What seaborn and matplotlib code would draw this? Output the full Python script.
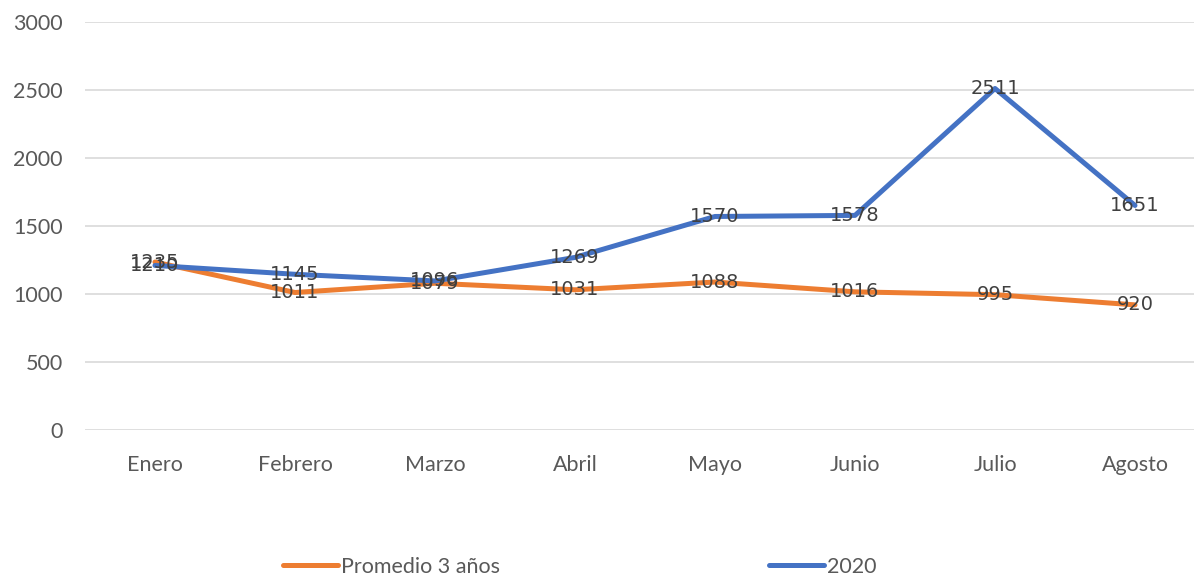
import pandas as pd
import matplotlib
matplotlib.use('Agg')
import matplotlib.pyplot as plt
import seaborn as sns

meses = ['Enero', 'Febrero', 'Marzo', 'Abril', 'Mayo', 'Junio', 'Julio', 'Agosto']
promedio = [1235, 1011, 1079, 1031, 1088, 1016, 995, 920]
v2020 = [1210, 1145, 1096, 1269, 1570, 1578, 2511, 1651]
series = ['Promedio 3 años', '2020']
colores = ['#ED7D31', '#4472C4']

df = pd.DataFrame({
    'mes': meses * 2,
    'valor': promedio + v2020,
    'serie': [series[0]] * len(meses) + [series[1]] * len(meses),
})

sns.set_style('white')
plt.rcParams['font.family'] = ['Lato', 'DejaVu Sans']

fig = plt.figure(figsize=(11.94, 5.79), dpi=100)
ax = fig.add_axes([85 / 1194, 149 / 579, 1120 / 1194, 408 / 579])

sns.lineplot(data=df, x='mes', y='valor', hue='serie', palette=colores,
             sort=False, linewidth=3.6, ax=ax, legend=False)

# data labels on the points (they overlap in the original too)
for vals in [promedio, v2020]:
    for i, v in enumerate(vals):
        ax.text(i, v, str(v), ha='center', va='center', fontsize=14,
                color='#404040', family='DejaVu Sans')

ax.set_xlim(-0.5, 7.5)
ax.set_ylim(0, 3000)
ax.set_yticks(range(0, 3001, 500))
ax.yaxis.grid(True, color='#D9D9D9', linewidth=1.2)
ax.set_axisbelow(True)
for s in ax.spines.values():
    s.set_visible(False)
ax.tick_params(axis='both', length=0, labelsize=15.5, colors='#595959')
ax.tick_params(axis='x', pad=18)
ax.tick_params(axis='y', pad=16)
ax.set_xlabel('')
ax.set_ylabel('')

handles = [plt.Line2D([], [], color=c, linewidth=3.6, solid_capstyle='round') for c in colores]
fig.legend(handles, series, loc='center left', bbox_to_anchor=(283 / 1194, 1 - 567 / 579),
           ncol=2, frameon=False, fontsize=15.5, handlelength=2.55, handletextpad=0.15,
           columnspacing=12.5, labelcolor='#595959', borderaxespad=0, borderpad=0)

fig.savefig('out.png', dpi=100)
